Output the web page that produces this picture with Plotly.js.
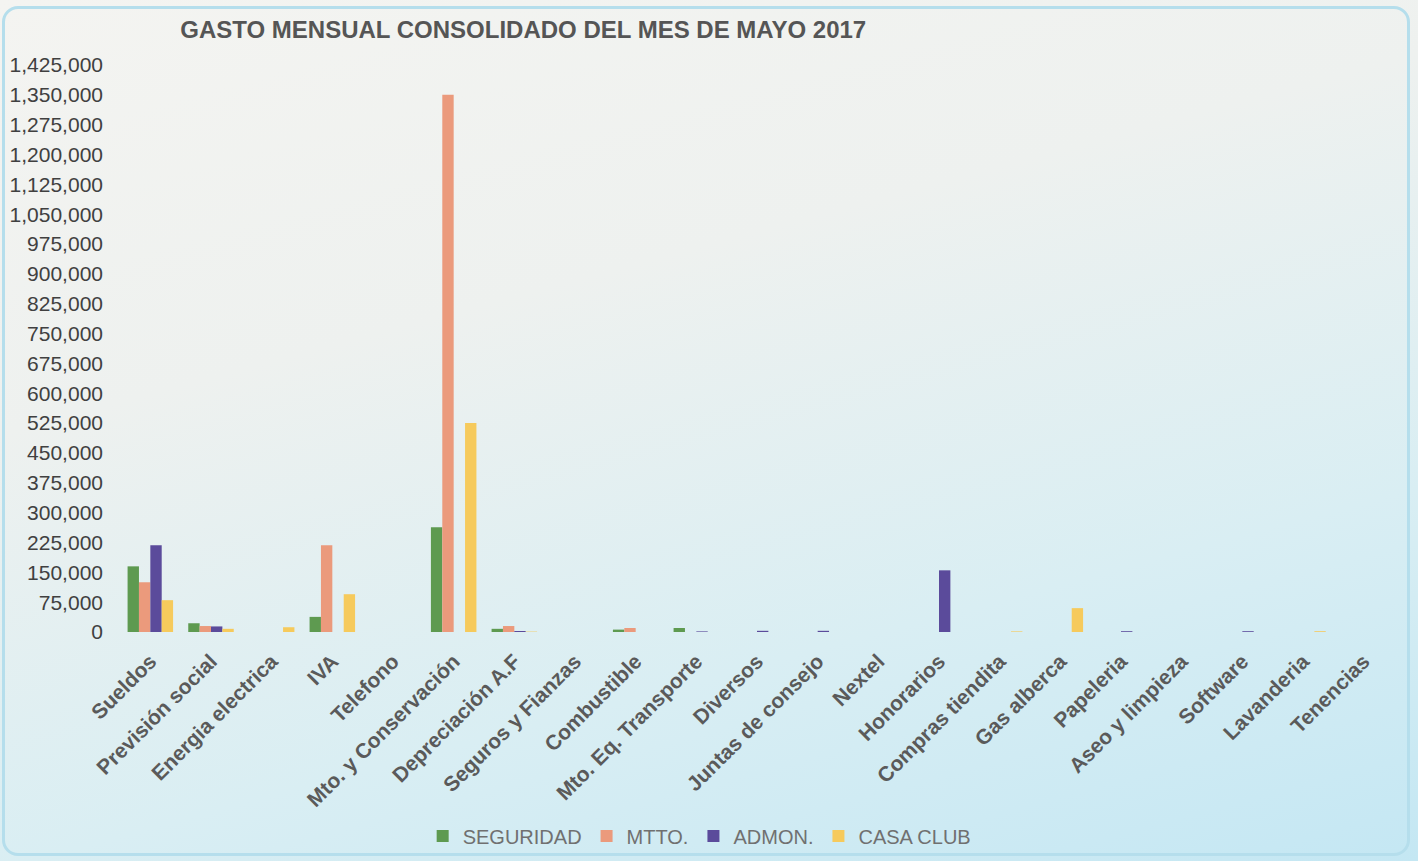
<!DOCTYPE html>
<html>
<head>
<meta charset="utf-8">
<script src="https://cdn.plot.ly/plotly-3.0.1.min.js"></script>
<style>
html,body{margin:0;padding:0;width:1418px;height:861px;overflow:hidden;}
body{background:linear-gradient(165deg,#f4f4f1 0%,#eef1ef 35%,#d9eef3 70%,#c4e7f3 100%);}
#frame{position:absolute;left:2px;top:6px;width:1408px;height:850px;border:3px solid #b5deec;border-radius:16px;box-sizing:border-box;}
#chart{position:absolute;left:0;top:0;width:1418px;height:861px;}
</style>
</head>
<body>
<div id="frame"></div>
<div id="chart"></div>
<script>
const categories = ["Sueldos","Previsión social","Energia electrica","IVA","Telefono","Mto. y Conservación","Depreciación A.F","Seguros y Fianzas","Combustible","Mto. Eq. Transporte","Diversos","Juntas de consejo","Nextel","Honorarios","Compras tiendita","Gas alberca","Papeleria","Aseo y limpieza","Software","Lavanderia","Tenencias"];
const seguridad = [165000,22000,0,38000,0,263000,8000,0,6000,10000,0,0,0,0,0,0,0,0,0,0,0];
const mtto      = [125000,15000,0,218000,0,1350000,15000,0,10000,0,0,0,0,0,0,0,0,0,0,0,0];
const admon     = [218000,14000,0,0,0,0,2500,0,0,1500,3000,3000,0,155000,0,0,2000,0,2000,0,0];
const casaclub  = [80000,8000,12000,95000,0,525000,1000,0,0,0,0,0,0,0,1500,60000,0,0,0,2000,0];
const seriesNames = ["SEGURIDAD","MTTO.","ADMON.","CASA CLUB"];
const colors = ["#5e9a50","#eb9a7c","#5b4b9b","#f6ca5c"];
const values = [seguridad, mtto, admon, casaclub];

const traces = values.map((v,i)=>({
  type:'bar', name:seriesNames[i], x:categories, y:v,
  marker:{color:colors[i]}, hoverinfo:'x+y'
}));

const layout = {
  width:1418, height:861,
  paper_bgcolor:'rgba(0,0,0,0)', plot_bgcolor:'rgba(0,0,0,0)',
  margin:{l:120,r:24,t:65,b:229, autoexpand:false},
  barmode:'group', bargap:0.25, bargroupgap:0,
  title:{text:'GASTO MENSUAL CONSOLIDADO DEL MES DE MAYO 2017', x:0.369, xanchor:'center', y:0.966, yanchor:'middle',
         font:{family:'"Liberation Sans Narrow","Arial Narrow",Arial,sans-serif', size:24, color:'#555555', weight:'bold'}},
  xaxis:{type:'category', tickangle:-45, showgrid:false, showline:false, zeroline:false, ticks:'', automargin:false,
         ticklabelstandoff:12,
         tickfont:{family:'Arial,"Liberation Sans",sans-serif', size:21, color:'#5a5a5a', weight:'bold'}},
  yaxis:{range:[0,1425000], dtick:75000, tick0:0, tickformat:',d', showgrid:false, showline:false, zeroline:false, ticks:'', automargin:false,
         ticklabelstandoff:16,
         tickfont:{family:'Arial,"Liberation Sans",sans-serif', size:21, color:'#404040'}},
  legend:{orientation:'h', x:0.455, xanchor:'center', y:-0.36, yanchor:'middle',
          font:{family:'Arial,"Liberation Sans",sans-serif', size:20, color:'#707070'}, itemwidth:30, tracegroupgap:0,
          bgcolor:'rgba(0,0,0,0)'},
  showlegend:true
};
Plotly.newPlot('chart', traces, layout, {displayModeBar:false, staticPlot:true});
</script>
</body>
</html>
